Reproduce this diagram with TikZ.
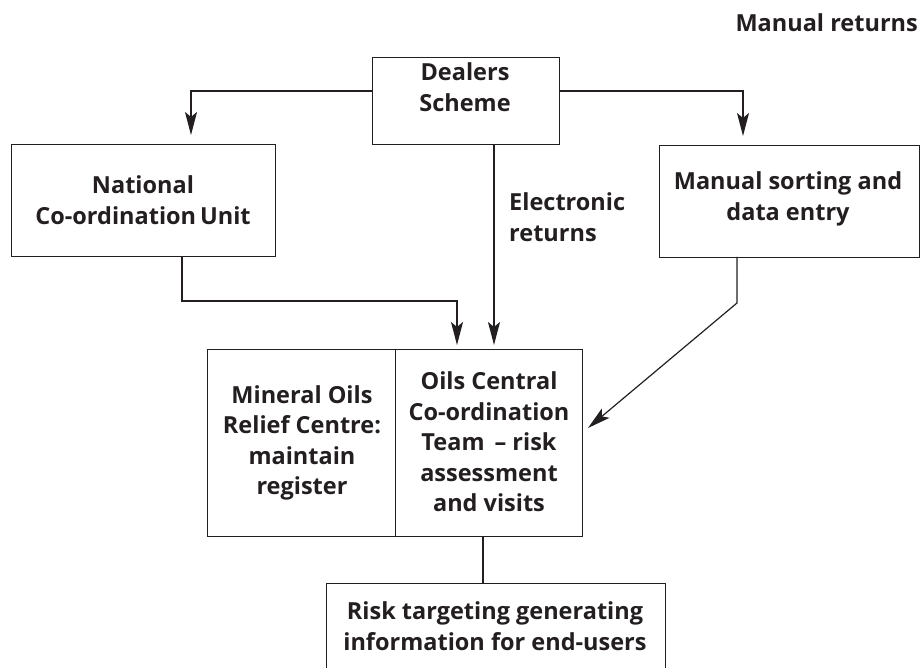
\documentclass[tikz,border=0pt]{standalone}
\usepackage{fontspec}
\setmainfont{Open Sans}
\usetikzlibrary{arrows.meta,calc}
\definecolor{ink}{HTML}{231F20}
\begin{document}
\begin{tikzpicture}[x=1pt,y=-1pt,
  box/.style={draw=ink,line width=1.2pt,minimum width=#1,anchor=north west,inner sep=0pt},
  txt/.style={text=ink,font=\fontsize{23.5}{30.5}\selectfont\bfseries,align=center,inner sep=0pt},
  conn/.style={draw=ink,line width=1.2pt},
  arr/.style={conn,-{Stealth[length=23pt,width=12pt,inset=5pt]}}]
\useasboundingbox (0,0) rectangle (921,668);
\clip (0,0) rectangle (921,668);
% boxes
\node[box=187pt,minimum height=87pt] (dealers) at (372,57) {};
\node[box=264pt,minimum height=112pt] (national) at (11,144) {};
\node[box=260pt,minimum height=112pt] (manual) at (659,145) {};
\node[box=188pt,minimum height=187pt] (morc) at (207,349) {};
\node[box=187pt,minimum height=187pt] (occt) at (395,349) {};
\node[box=339pt,minimum height=120pt] (risk) at (326,583) {};
% texts
\node[txt] (tdealers) at (465,87) {Dealers\\Scheme};
\node[txt] (tnational) at (143,200) {National\\Co-ordination\,Unit};
\node[txt] (tmanual) at (788,199) {Manual sorting and\\data entry};
\node[txt] (tmorc) at (302,443) {Mineral Oils\\Relief Centre:\\maintain\\register};
\node[txt] (toc) at (489,442) {Oils Central\\Co-ordination\\Team\, -- risk\\assessment\\and visits};
\node[txt] (trisk) at (495,626) {Risk targeting generating\\information for end-users};
\node[txt,align=left,anchor=west] (telec) at (509,217) {Electronic\\returns};
\node[txt,anchor=east] (tmret) at (918,23) {Manual returns};
% connector anchor points
\coordinate (dw) at (dealers.west |- 0,91);
\coordinate (de) at (dealers.east |- 0,91);
\coordinate (natin) at (191,144);
\coordinate (manin) at (743,145);
\coordinate (natout) at (182,256);
\coordinate (natbend) at (182,301);
\coordinate (occin1) at (457,349);
\coordinate (dealout) at (494,144);
\coordinate (occin2) at (494,349);
\coordinate (manout) at (737,257);
\coordinate (manbend) at (737,303);
\coordinate (occout) at (483,536);
% connectors
\draw[arr,shorten >=9pt] (dw) -| (natin);
\draw[arr,shorten >=9pt] (de) -| (manin);
\draw[arr,shorten >=4pt] (natout) -- (natbend) -| (occin1);
\draw[arr,shorten >=4pt] (dealout) -- (occin2);
\draw[arr] (manout) -- (manbend) -- (588,428);
\draw[conn] (occout) -- (risk.north -| occout);
\end{tikzpicture}
\end{document}
